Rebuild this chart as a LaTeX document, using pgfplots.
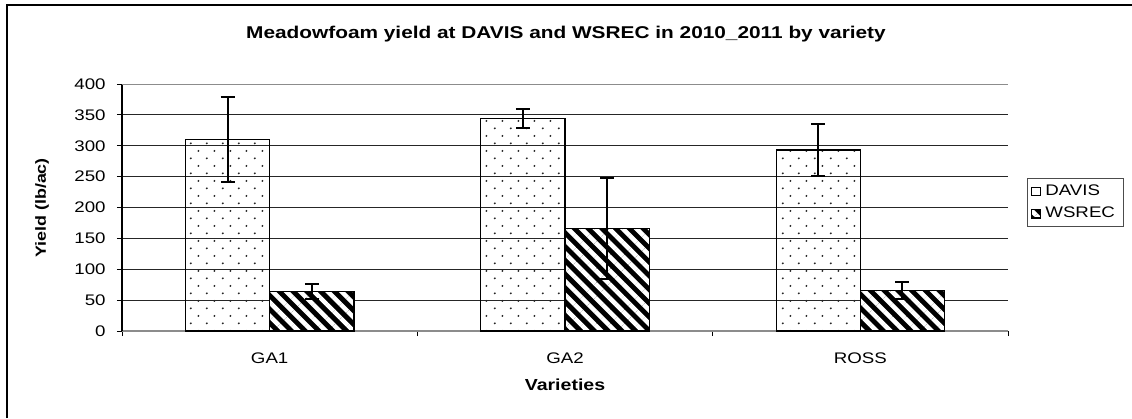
\documentclass[border=0pt]{standalone}
\usepackage{fontspec}
\setmainfont{Liberation Sans}[FakeStretch=1.22]
\usepackage{pgfplots}
\pgfplotsset{compat=1.18}
\usetikzlibrary{patterns,patterns.meta}

% staggered dots, as in the Excel "dotted" fill
\pgfdeclarepatternformonly{staggered dots}{\pgfqpoint{0pt}{0pt}}{\pgfqpoint{11.7pt}{11.5pt}}{\pgfqpoint{11.7pt}{11.5pt}}{%
  \pgfpathcircle{\pgfqpoint{2.9pt}{2.9pt}}{0.8pt}%
  \pgfpathcircle{\pgfqpoint{8.75pt}{8.65pt}}{0.8pt}%
  \pgfusepath{fill}}

\pgfplotsset{
  sq legend/.style={legend image code/.code={\draw[##1, line width=0.6pt] (0pt,-3.2pt) rectangle (6.4pt,3.2pt);}},
  xl errors/.style={error bars/.cd, y dir=both, y explicit,
    error bar style={line width=1.5pt, black},
    error mark options={rotate=90, mark size=5.25pt, line width=1.5pt, black}},
}

\pgfplotstableread{
x davis daviserr wsrec wsrecerr
0 310 69 64 12
1 344 15 166 81
2 293 42 66 14
}\yield

\begin{document}
\begin{tikzpicture}
\useasboundingbox (-91.5pt,-65.25pt) rectangle (757.5pt,248.25pt);
% chart frame (only the left and top edges are in the picture)
\draw[black, line width=1.2pt] (-86.25pt,-65.25pt) -- (-86.25pt,244.5pt) -- (757.5pt,244.5pt);
\begin{axis}[
  scale only axis, width=664.5pt, height=185.25pt,
  at={(0,0)}, anchor=south west,
  xmin=-0.5, xmax=2.5, ymin=0, ymax=400,
  ytick={0,50,...,400},
  xtick={0,1,2}, xticklabels={GA1,GA2,ROSS},
  minor xtick={-0.5,0.5,1.5,2.5},
  major x tick style={draw=none},
  tick align=outside, major tick length=3.75pt, minor tick length=3.75pt,
  tick style={black, line width=0.6pt},
  axis lines*=left,
  x axis line style={black!45, line width=1pt},
  y axis line style={black, line width=0.8pt},
  ymajorgrids, grid style={black!85, line width=0.6pt},
  /pgf/number format/assume math mode=true,
  tick label style={font=\fontsize{11.5}{13}\selectfont, black},
  xticklabel shift=9pt, yticklabel shift=5pt,
  ybar=0pt, bar width=0.285,
  legend cell align=left,
  legend style={at={(axis description cs:1.0214,0.619)}, anchor=north west,
    draw=black!70, line width=0.6pt, font=\fontsize{11.5}{13}\selectfont,
    inner xsep=3pt, inner ysep=3pt, row sep=3pt,
    nodes={inner xsep=3.5pt}},
]
\addplot[draw=black, line width=1pt, pattern=staggered dots, pattern color=black!85,
  sq legend, xl errors]
  table[x=x, y=davis, y error=daviserr] {\yield};
\addlegendentry{DAVIS}
\addplot[draw=black, line width=1pt, preaction={fill=black},
  pattern={Lines[angle=-45, distance=7.3pt, line width=3.4pt]}, pattern color=white,
  sq legend, xl errors]
  table[x=x, y=wsrec, y error=wsrecerr] {\yield};
\addlegendentry{WSREC}
\draw[black!45, line width=1.5pt] (axis cs:-0.5,400) -- (axis cs:2.5,400);
\end{axis}
\node[font=\bfseries\fontsize{12.8}{14}\selectfont] at (333pt,222.75pt) {Meadowfoam yield at DAVIS and WSREC in 2010\_2011 by variety};
\node[font=\bfseries\fontsize{11}{12}\selectfont, rotate=90] at (-60pt,92.25pt) {Yield (lb/ac)};
\node[font=\bfseries\fontsize{12}{13}\selectfont] at (332.25pt,-40.5pt) {Varieties};
\end{tikzpicture}
\end{document}
